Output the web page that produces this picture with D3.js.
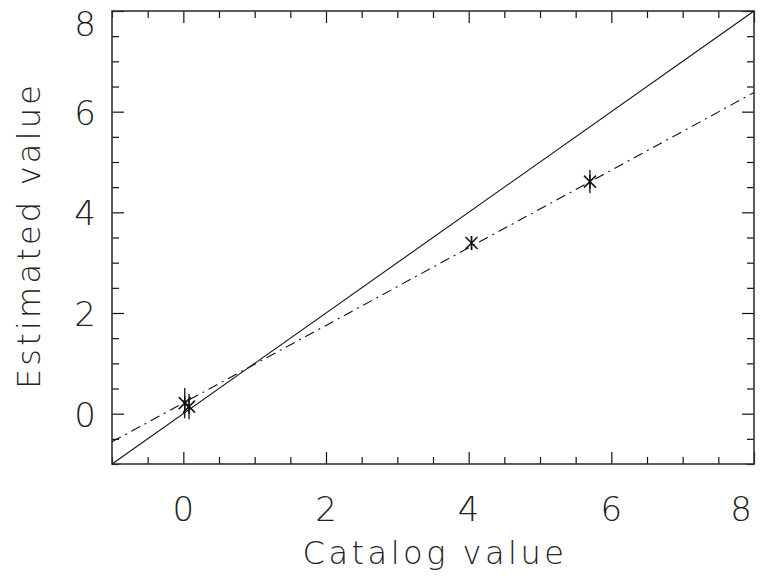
<!DOCTYPE html>
<html>
<head>
<meta charset="utf-8">
<script src="https://cdn.jsdelivr.net/npm/d3@7"></script>
<style>
  body { margin: 0; background: #fff; }
  svg text { font-family: "DejaVu Sans", sans-serif; font-weight: 200; fill: #222; }
</style>
</head>
<body>
<div id="chart"></div>
<script>
// measured points (catalog vs estimated, with 1-sigma error)
var catalog   = [0.02, 0.08, 4.04, 5.70];
var estimated = [0.21, 0.14, 3.39, 4.61];
var errors    = [0.30, 0.25, 0.14, 0.23];

// one-to-one line and the fitted (dash-dot) line, end points
var identityX = [-1, 8], identityY = [-1, 8];
var fitX = [-1, 8], fitY = [-0.56, 6.38];

var majorTicks = [0, 2, 4, 6, 8];
var xDomain = [-1, 8], yDomain = [-1, 8];

var W = 767, H = 579;
var margin = { top: 11, right: 13, bottom: 115, left: 112 },
    width = W - margin.left - margin.right,
    height = H - margin.top - margin.bottom;

var svg = d3.select("#chart").append("svg")
    .attr("width", W)
    .attr("height", H);

var g = svg.append("g")
    .attr("transform", "translate(" + margin.left + "," + margin.top + ")");

var x = d3.scaleLinear().domain(xDomain).range([0, width]);
var y = d3.scaleLinear().domain(yDomain).range([height, 0]);

var minorTicks = d3.range(-1, 8.01, 0.5).filter(function (d) { return majorTicks.indexOf(d) < 0; });

/* ticks pointing inward on all four sides */
function tickAxis(axisFn, scale, vals, size, transform) {
    g.append("g")
        .attr("class", "axis")
        .attr("transform", transform)
        .call(axisFn(scale).tickValues(vals).tickSize(size).tickFormat(""))
        .call(function (a) { a.select(".domain").remove(); })
        .selectAll("line").attr("stroke", "#111").attr("stroke-width", 1.2);
}
tickAxis(d3.axisTop, x, majorTicks, 12, "translate(0," + height + ")");
tickAxis(d3.axisTop, x, minorTicks, 7, "translate(0," + height + ")");
tickAxis(d3.axisBottom, x, majorTicks, 12, "translate(0,0)");
tickAxis(d3.axisBottom, x, minorTicks, 7, "translate(0,0)");
tickAxis(d3.axisRight, y, majorTicks, 12, "translate(0,0)");
tickAxis(d3.axisRight, y, minorTicks, 7, "translate(0,0)");
tickAxis(d3.axisLeft, y, majorTicks, 12, "translate(" + width + ",0)");
tickAxis(d3.axisLeft, y, minorTicks, 7, "translate(" + width + ",0)");

// frame
g.append("rect")
    .attr("width", width).attr("height", height)
    .attr("fill", "none").attr("stroke", "#333").attr("stroke-width", 1.6);

// tick labels (last one pulled inside, like the original)
g.selectAll(".xlab").data(majorTicks).enter().append("text")
    .attr("class", "xlab")
    .attr("x", function (d) { return d === xDomain[1] ? x(d) - 2 : x(d); })
    .attr("y", height + 57)
    .attr("text-anchor", function (d) { return d === xDomain[1] ? "end" : "middle"; })
    .style("font-size", "34px")
    .text(function (d) { return d; });

g.selectAll(".ylab").data(majorTicks).enter().append("text")
    .attr("class", "ylab")
    .attr("x", -16)
    .attr("y", function (d) { return d === yDomain[1] ? y(d) + 25 : y(d) + 13; })
    .attr("text-anchor", "end")
    .style("font-size", "34px")
    .text(function (d) { return d; });

// axis titles
svg.append("text")
    .attr("x", margin.left + width / 2 + 2)
    .attr("y", 564)
    .attr("text-anchor", "middle")
    .style("font-size", "32px")
    .style("letter-spacing", "3.5px")
    .text("Catalog value");

svg.append("text")
    .attr("transform", "translate(40," + (margin.top + height / 2 - 2) + ") rotate(-90)")
    .attr("text-anchor", "middle")
    .style("font-size", "32px")
    .style("letter-spacing", "3.2px")
    .text("Estimated value");

var line = d3.line()
    .x(function (d) { return x(d[0]); })
    .y(function (d) { return y(d[1]); });

var clip = g.append("g");

clip.append("path")
    .attr("d", line(d3.zip(identityX, identityY)))
    .attr("fill", "none").attr("stroke", "#111").attr("stroke-width", 1.1);

clip.append("path")
    .attr("d", line(d3.zip(fitX, fitY)))
    .attr("fill", "none").attr("stroke", "#111").attr("stroke-width", 1.1)
    .attr("stroke-dasharray", "10,5,2,5");

// error bars + asterisks
var pts = catalog.map(function (c, i) { return { x: c, y: estimated[i], e: errors[i] }; });

var pt = g.selectAll(".pt").data(pts).enter().append("g")
    .attr("class", "pt")
    .attr("transform", function (d) { return "translate(" + x(d.x) + "," + y(d.y) + ")"; });

pt.append("line")
    .attr("x1", 0).attr("x2", 0)
    .attr("y1", function (d) { return y(d.y + d.e) - y(d.y); })
    .attr("y2", function (d) { return y(d.y - d.e) - y(d.y); })
    .attr("stroke", "#111").attr("stroke-width", 1.3);

pt.append("path")
    .attr("d", "M0,-7L0,7M-6,-6L6,6M-6,6L6,-6")
    .attr("stroke", "#111").attr("stroke-width", 1.5);
</script>
</body>
</html>
